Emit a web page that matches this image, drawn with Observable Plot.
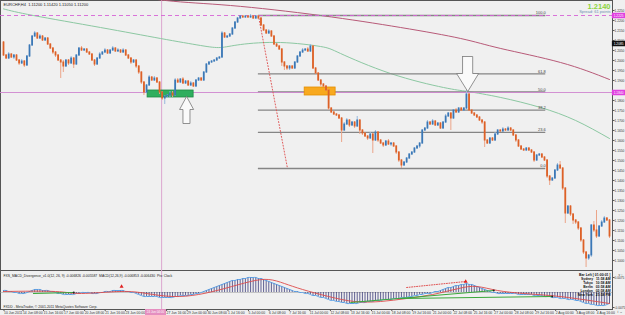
<!DOCTYPE html>
<html><head><meta charset="utf-8">
<script src="https://cdn.jsdelivr.net/npm/d3@7"></script>
<script src="https://cdn.jsdelivr.net/npm/@observablehq/plot@0.6"></script>
<style>
html,body{margin:0;padding:0;background:#f0f0f0;}
#wrap{position:relative;width:625px;height:315px;overflow:hidden;background:#f0f0f0;font-family:"Liberation Sans",Arial,sans-serif;}
#price,#macd{position:absolute;left:0;}
#price{top:0;} #macd{top:270px;}
#xlabel{position:absolute;left:145px;top:309px;width:21px;height:6px;background:#e58fc0;color:#fff;font-size:3px;line-height:6px;text-align:center;white-space:nowrap;}
</style></head><body><div id="wrap"><div id="price"></div><div id="macd"></div><div id="xlabel">24 Jun 04:00</div></div>
<script>
// ---------- DATA ----------
const symbolTitle = "EURCHF,H4  1.11200 1.11420 1.11050 1.11200";
const firstOpen = 1.2090;
const closes = [
1.2025,1.2010,1.2030,1.2015,1.2025,1.2000,1.1985,1.1995,1.1975,1.2020,
1.2075,1.2120,1.2135,1.2110,1.2120,1.2100,1.2110,1.2080,1.2060,1.2040,
1.2025,1.2000,1.1990,1.1970,1.2000,1.1985,1.2010,1.1980,1.2025,1.2060,
1.2050,1.2055,1.2040,1.2030,1.2000,1.1980,1.2010,1.2030,1.2040,1.2050,
1.2035,1.2050,1.2060,1.2045,1.2050,1.2040,1.2050,1.2025,1.2010,1.1990,
1.2000,1.1970,1.1940,1.1890,1.1840,1.1875,1.1915,1.1900,1.1910,1.1890,
1.1840,1.1810,1.1820,1.1825,1.1835,1.1825,1.1900,1.1890,1.1905,1.1885,
1.1895,1.1875,1.1885,1.1870,1.1900,1.1910,1.1900,1.1940,1.1980,1.1990,
1.1995,1.2000,1.2010,1.2015,1.2135,1.2115,1.2120,1.2130,1.2160,1.2190,
1.2210,1.2220,1.2215,1.2220,1.2215,1.2220,1.2210,1.2220,1.2210,1.2175,
1.2150,1.2135,1.2145,1.2120,1.2080,1.2070,1.2055,1.1990,1.1970,1.1960,
1.1970,1.1960,1.1990,1.2020,1.2040,1.2050,1.2055,1.2045,1.2070,1.1960,
1.1935,1.1900,1.1880,1.1870,1.1850,1.1760,1.1740,1.1730,1.1725,1.1710,
1.1650,1.1680,1.1700,1.1675,1.1690,1.1670,1.1700,1.1650,1.1635,1.1620,
1.1610,1.1630,1.1600,1.1640,1.1600,1.1585,1.1575,1.1595,1.1580,1.1585,
1.1570,1.1540,1.1500,1.1475,1.1490,1.1510,1.1530,1.1540,1.1560,1.1570,
1.1585,1.1650,1.1660,1.1690,1.1680,1.1695,1.1675,1.1685,1.1660,1.1690,
1.1720,1.1735,1.1710,1.1750,1.1740,1.1760,1.1750,1.1760,1.1830,1.1750,
1.1735,1.1725,1.1715,1.1700,1.1690,1.1600,1.1585,1.1610,1.1600,1.1630,
1.1650,1.1645,1.1655,1.1650,1.1660,1.1650,1.1625,1.1600,1.1570,1.1555,
1.1550,1.1560,1.1550,1.1540,1.1500,1.1525,1.1530,1.1515,1.1500,1.1420,
1.1400,1.1410,1.1450,1.1475,1.1460,1.1360,1.1235,1.1270,1.1230,1.1200,
1.1190,1.1160,1.1100,1.1040,1.1010,1.1025,1.1175,1.1150,1.1120,1.1170,
1.1190,1.1210,1.1200,1.1120];
// upper / lower shadows in pips (0.0001)
const upWick = [
5,5,10,5,5,5,5,10,5,5, 5,5,10,5,10,5,5,5,5,5, 5,5,5,10,5,5,10,5,5,5,
10,5,5,5,5,5,5,10,5,10, 5,5,10,5,10,5,10,5,5,5, 5,5,5,5,5,5,10,5,10,5,
5,5,5,5,10,10,10,10,5,10, 5,5,10,5,5,5,5,5,5,5, 5,5,5,5,10,5,5,5,5,5,
5,5,5,5,5,10,5,5,5,5, 5,5,10,5,5,5,5,5,5,5, 5,5,5,5,5,10,5,10,10,5,
5,5,5,5,5,5,5,5,5,5, 5,10,10,5,5,5,20,5,5,5, 5,10,5,10,5,5,5,5,10,5,
5,5,5,5,5,5,5,5,5,5, 5,5,5,10,5,10,5,5,5,5, 10,5,5,5,10,5,5,5,20,5,
5,5,5,5,5,5,5,5,5,10, 5,5,10,5,10,5,5,5,5,5, 5,5,5,5,5,5,5,5,5,5,
5,5,5,10,20,5,5,5,5,5, 5,5,5,5,5,5,5,20,100,5, 10,10,5,5];
const dnWick = [
5,5,5,5,10,5,10,5,10,5, 5,5,5,5,5,5,5,5,5,10, 10,5,80,30,5,10,5,20,5,5,
5,5,5,5,5,10,5,5,5,5, 5,5,5,5,5,5,5,5,5,10, 5,10,10,10,15,5,5,5,5,5,
10,10,30,10,10,10,5,5,5,5, 5,5,5,5,5,5,5,5,5,5, 5,5,5,5,5,5,5,5,5,5,
5,5,5,5,5,5,5,5,5,5, 5,5,5,5,5,5,5,20,20,10, 10,5,5,5,5,5,5,5,5,5,
5,5,10,5,5,10,5,5,5,5, 60,5,5,10,5,10,5,20,10,5, 10,5,65,5,10,5,10,5,5,10,
5,10,10,15,5,5,5,5,5,5, 10,5,5,5,5,5,5,5,5,5, 5,5,60,5,5,5,5,5,5,5,
5,5,5,5,10,35,5,5,5,5, 5,5,5,5,5,5,5,10,5,5, 5,5,5,5,10,5,5,5,5,10,
25,5,5,5,5,10,50,5,10,20, 10,10,10,10,45,10,10,10,10,5, 5,5,5,10];
// moving averages: [bar index, price]
const maGreen = [[0,1.2258],[11.5,1.2225],[37.3,1.2165],[60.4,1.2110],[75.8,1.2075],[83.5,1.2065],[91.2,1.2080],[106.5,1.2090],[121.9,1.2070],[129.6,1.2035],[148.8,1.1935],[169.2,1.1865],[178.5,1.1845],[191.2,1.1815],[206.5,1.1765],[220,1.1700],[233,1.1610]];
const maRed = [[37.3,1.2350],[62.3,1.2300],[87.3,1.2275],[121.9,1.2225],[152.7,1.2165],[175.8,1.2110],[191.2,1.2060],[214.2,1.1990],[233,1.1905]];
// horizontal lines
const dashedLevel = 1.2225;
const solidLevel = 1.1840;
// fibonacci retracement: anchors and ratios
const fibHigh = {i: 98, p: 1.2225};
const fibLow = {i: 109.2, p: 1.1460};
const fibEnd = 208.5;
const fibRatios = [0, 23.6, 38.2, 50.0, 61.8, 100.0];
// boxes & arrows
const boxes = [{x1:55.4,x2:73.1,y1:1.1815,y2:1.1850,fill:"#2fae5e",stroke:"#1e8a45"},{x1:115.8,x2:127.7,y1:1.1825,y2:1.1865,fill:"#f8a91f",stroke:"#e48e00"}];
const arrowUp = [[70.4,1.1820],[73.1,1.1755],[71.7,1.1755],[71.7,1.1685],[69.0,1.1685],[69.0,1.1755],[67.7,1.1755],[70.4,1.1820]];
const arrowDown = [[176.5,1.2020],[180.4,1.2020],[180.4,1.1935],[182.7,1.1935],[178.5,1.1845],[174.2,1.1935],[176.5,1.1935],[176.5,1.2020]];
const crosshairBar = 60.8;
// price axis (ticks hidden behind highlighted labels are left out)
const priceTicks = [1.100,1.105,1.110,1.115,1.120,1.125,1.130,1.135,1.140,1.145,1.150,1.155,1.160,1.165,1.170,1.175,1.180,1.190,1.195,1.200,1.205,1.210,1.215,1.220,1.225];
const axisMarks = [{p:1.2225,bg:"#e040e0"},{p:1.2085,bg:"#111"},{p:1.1840,bg:"#e040e0"}];
// MACD histogram (pips) & signal knots
const hist = [
10,10,5,5,0,0,-5,-5,-5,0, 5,10,15,15,15,10,10,10,5,5, 0,-5,-5,-10,-10,-10,-10,-10,-5,-5,
0,0,0,0,-5,-5,-5,0,0,5, 5,5,10,10,10,10,10,5,5,0, 0,-5,-10,-15,-20,-20,-20,-20,-20,-20,
-25,-25,-25,-25,-25,-25,-20,-20,-15,-15, -15,-15,-10,-10,-5,-5,0,5,10,15, 20,25,30,35,40,45,50,55,60,60,
65,65,70,70,75,75,75,75,70,70, 65,60,55,50,45,40,35,30,25,20, 15,10,5,5,0,0,-5,-5,-10,-15,
-15,-20,-25,-25,-30,-35,-40,-40,-45,-45, -50,-50,-55,-55,-55,-55,-55,-50,-50,-50, -45,-45,-45,-40,-40,-40,-35,-35,-35,-35,
-30,-30,-30,-25,-25,-25,-20,-20,-15,-15, -10,-10,-5,-5,-5,0,5,5,10,15, 20,25,25,30,35,35,40,40,45,40,
40,35,30,25,20,15,10,5,0,0, -5,-5,-5,-5,-5,-5,-5,-5,-10,-10, -10,-10,-10,-10,-15,-15,-15,-15,-20,-20,
-20,-25,-25,-25,-30,-30,-30,-35,-35,-35, -40,-40,-45,-50,-55,-55,-60,-60,-65,-65, -65,-65,-60,-55];
const signal = [[0,5],[20,5],[30,-5],[45,5],[55,-5],[65,-20],[75,-10],[85,20],[95,55],[102,65],[108,45],[115,15],[125,-20],[135,-45],[145,-45],[155,-30],[165,-10],[175,20],[182,30],[190,10],[200,-5],[210,-15],[220,-30],[233,-55]];
const divGreen = [[[11.5,-5],[27,0]],[[133.5,-50],[188.5,10]],[[152.7,-30],[211,-20]]];
const divRed = [[155,25],[177.7,55]];
const redMarks = [[45.4,30],[177.7,55]];
const macdTicks = [75,-75];
const macdTickLabels = ["0.0075","-0.0075"];
const macdTitle = "FXS_MACD_Divergence_v1.0(12, 26, 9) -0.006826 -0.005587  MACD(12,26,9) -0.006853 -0.006430  Pts: Clock";
const copyright = "FXDD - MetaTrader, © 2001-2011 MetaQuotes Software Corp.";
const clockLines = ["Bar Left [ 01:00:01 ]","Sydney   11:58 AM","Tokyo   10:58 AM","Berlin   03:58 AM","London   02:58 AM","New York   21:58 PM"];
// time axis (the label under the crosshair tag is covered, so it is not listed)
const timeTicks = [0,7.3,15.2,23.1,31,38.9,46.7,62.5,70.4,78.2,86.1,94,101.9,109.7,117.6,125.5,133.4,141.3,149.1,157,164.9,172.8,180.6,188.5,196.4,204.3,212.1,220,227.9];
const timeLabels = ["10 Jun 2011","14 Jun 08:00","15 Jun 16:00","17 Jun 00:00","20 Jun 08:00","21 Jun 16:00","23 Jun 00:00","27 Jun 16:00","29 Jun 00:00","30 Jun 08:00","1 Jul 16:00","5 Jul 00:00","6 Jul 08:00","7 Jul 16:00","11 Jul 00:00","12 Jul 08:00","13 Jul 16:00","15 Jul 00:00","18 Jul 08:00","19 Jul 16:00","21 Jul 00:00","22 Jul 08:00","25 Jul 16:00","27 Jul 00:00","28 Jul 08:00","29 Jul 16:00","2 Aug 00:00","3 Aug 08:00","4 Aug 16:00"];

// ---------- BUILD ----------
const bars = closes.map((c, i) => {
  const o = i === 0 ? firstOpen : closes[i - 1];
  return {i, o, c, top: Math.max(o, c), bot: Math.min(o, c), h: Math.max(o, c) + upWick[i] / 1e4, l: Math.min(o, c) - dnWick[i] / 1e4, up: c > o};
});
const fibs = fibRatios.map(r => ({r, p: fibLow.p + r / 100 * (fibHigh.p - fibLow.p)}));
const font = "Liberation Sans, Arial, sans-serif";
const X = {domain: [0, 233], range: [3, 609]};

const price = Plot.plot({
  width: 625, height: 270, marginLeft: 0, marginRight: 13, marginTop: 0, marginBottom: 0,
  x: {...X, axis: null},
  y: {domain: [1.095, 1.23], range: [270, 0], axis: null},
  style: {background: "transparent", fontFamily: font},
  marks: [
    Plot.frame({stroke: "#555", strokeWidth: 1}),
    Plot.ruleX([crosshairBar], {x: d => d, stroke: "#dca6cf", strokeWidth: 1}),
    Plot.line(maRed, {x: d => d[0], y: d => d[1], curve: "natural", stroke: "#b85a78", strokeWidth: 1, clip: true}),
    Plot.line(maGreen, {x: d => d[0], y: d => d[1], curve: "natural", stroke: "#8cc8a2", strokeWidth: 1, clip: true}),
    Plot.ruleY(fibs, {y: "p", x1: fibHigh.i, x2: fibEnd, stroke: "#858585", strokeWidth: 1.3}),
    Plot.text(fibs, {y: "p", x: fibEnd, text: d => d.r.toFixed(1), textAnchor: "end", dy: -2.5, fontSize: 4, fill: "#444"}),
    Plot.ruleY([dashedLevel], {y: d => d, stroke: "#d664d6", strokeDasharray: "4,3", strokeWidth: 1, strokeOpacity: 0.9}),
    Plot.ruleY([solidLevel], {y: d => d, stroke: "#cf86cf", strokeWidth: 1, strokeOpacity: 0.9}),
    Plot.line([[fibHigh.i, fibHigh.p], [fibLow.i, fibLow.p]], {x: d => d[0], y: d => d[1], stroke: "#e05a5a", strokeDasharray: "1,2", strokeWidth: 1}),
    Plot.rect(boxes, {x1: "x1", x2: "x2", y1: "y1", y2: "y2", fill: "fill", stroke: "stroke", strokeWidth: 0.8}),
    Plot.ruleX(bars, {x: "i", y1: "h", y2: "l", stroke: d => d.up ? "#98b9de" : "#eba488", strokeWidth: 1}),
    Plot.ruleX(bars, {x: "i", y1: "top", y2: "bot", stroke: d => d.up ? "#3b78b6" : "#dd6127", strokeWidth: 1.8, insetTop: -0.5, insetBottom: -0.5}),
    Plot.line(arrowUp, {x: d => d[0], y: d => d[1], fill: "#fafafa", stroke: "#777", strokeWidth: 0.8}),
    Plot.line(arrowDown, {x: d => d[0], y: d => d[1], fill: "#fafafa", stroke: "#777", strokeWidth: 0.8}),
    Plot.axisY(priceTicks, {anchor: "right", tickSize: 1.5, tickPadding: 0.5, tickFormat: d => d.toFixed(4), fontSize: 3.2, fill: "#333", stroke: "#555"}),
    Plot.ruleY(axisMarks, {y: "p", x1: 234.1, x2: 239.3, stroke: "bg", strokeWidth: 5.5}),
    Plot.text(axisMarks, {y: "p", frameAnchor: "right", dx: 1.2, text: d => d.p.toFixed(4), textAnchor: "start", fontSize: 3.2, fill: "#fff"}),
    Plot.text([symbolTitle], {frameAnchor: "top-left", dx: 3, dy: 3, text: d => d, fontSize: 4, fill: "#222"}),
    Plot.text(["1.2140"], {frameAnchor: "top-right", dx: -2, dy: 3, text: d => d, fontSize: 7.5, fontWeight: "bold", fill: "#8cd43c"}),
    Plot.text(["Spread: 61 points"], {frameAnchor: "top-right", dx: -2, dy: 10, text: d => d, fontSize: 4, fill: "#6d8fb0"})
  ]
});
document.getElementById("price").appendChild(price);

const bins = hist.map((v, i) => ({i, v}));
const macd = Plot.plot({
  width: 625, height: 45, marginLeft: 0, marginRight: 13, marginTop: 0, marginBottom: 6,
  x: {...X, axis: null},
  y: {domain: [-75, 75], range: [37, 7], axis: null},
  style: {background: "transparent", fontFamily: font},
  marks: [
    Plot.frame({stroke: "#555", strokeWidth: 1}),
    Plot.ruleX([crosshairBar], {x: d => d, stroke: "#dca6cf", strokeWidth: 1}),
    Plot.ruleY([0], {stroke: "#999", strokeWidth: 0.5}),
    Plot.ruleX(bins, {x: "i", y1: 0, y2: "v", stroke: "#23236a", strokeWidth: 0.7}),
    Plot.line(bins, {x: "i", y: "v", curve: "natural", stroke: "#5aa0e6", strokeWidth: 1}),
    Plot.line(signal, {x: d => d[0], y: d => d[1], curve: "natural", stroke: "#de4b4b", strokeWidth: 0.9}),
    ...divGreen.map(seg => Plot.line(seg, {x: d => d[0], y: d => d[1], stroke: "#3aa83a", strokeWidth: 1})),
    Plot.dot(divGreen.map(s => s[1]), {x: d => d[0], y: d => d[1], r: 1, fill: "#222"}),
    Plot.line(divRed, {x: d => d[0], y: d => d[1], stroke: "#e05050", strokeDasharray: "1,1.5", strokeWidth: 1}),
    Plot.dot(redMarks, {x: d => d[0], y: d => d[1], symbol: "triangle", r: 1.5, fill: "#e02020"}),
    Plot.axisY(macdTicks, {anchor: "right", tickSize: 1.5, tickPadding: 0.5, tickFormat: (d, i) => macdTickLabels[i], fontSize: 3.2, fill: "#333", stroke: "#555"}),
    Plot.axisX(timeTicks, {anchor: "bottom", tickSize: 2, tickPadding: 0.5, tickFormat: (d, i) => timeLabels[i], textAnchor: "start", dx: 0.5, fontSize: 3.4, fill: "#333", stroke: "#555"}),
    Plot.text([macdTitle], {frameAnchor: "top-left", dx: 3, dy: 4, text: d => d, fontSize: 3.4, fill: "#222"}),
    Plot.text([copyright], {frameAnchor: "bottom-left", dx: 3, dy: -2, text: d => d, fontSize: 3.4, fill: "#222"}),
    Plot.text([clockLines.join("\n")], {frameAnchor: "top-right", dx: -2, dy: 3, text: d => d, lineHeight: 1.15, fontSize: 3.4, fill: "#111", fontWeight: "bold"})
  ]
});
document.getElementById("macd").appendChild(macd);
</script></body></html>
